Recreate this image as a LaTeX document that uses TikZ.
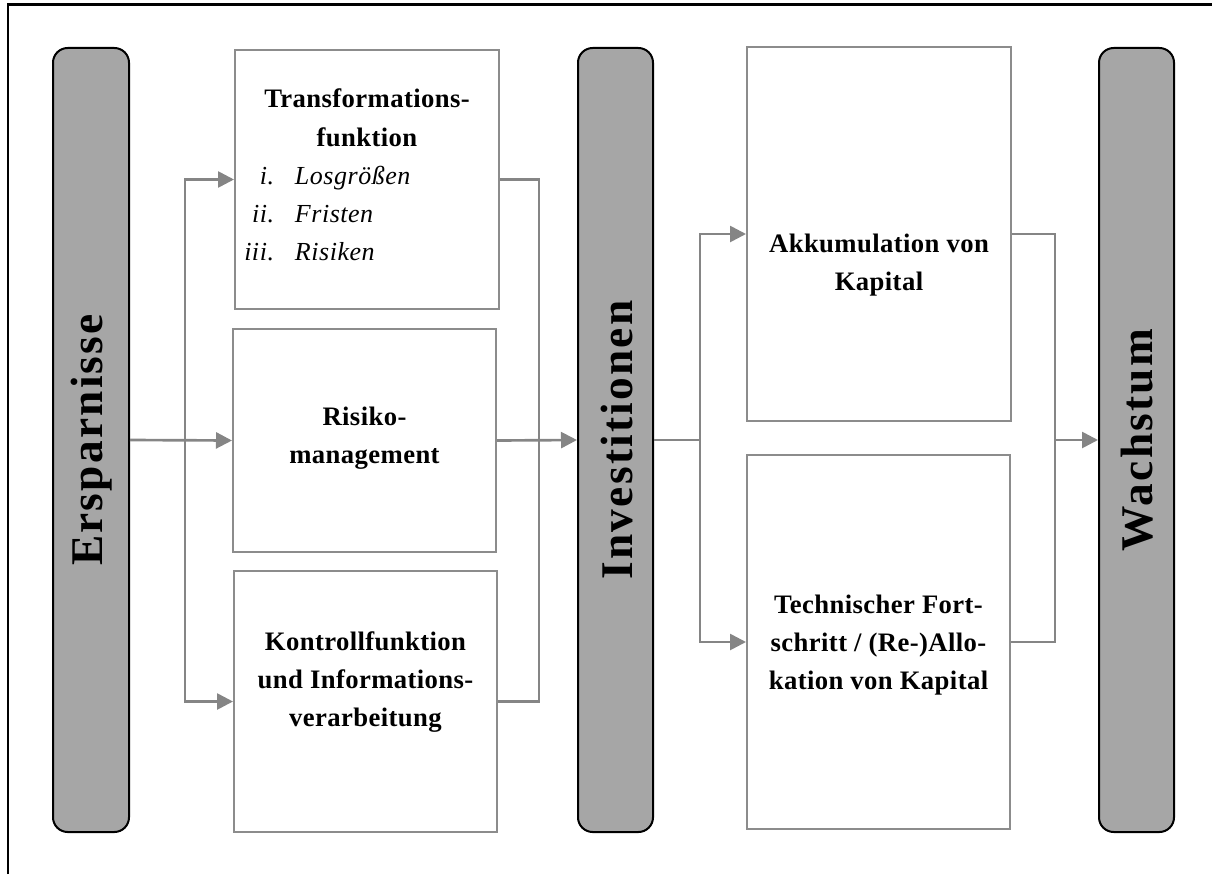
\documentclass[tikz,border=0pt]{standalone}
\usepackage{fontspec}
\setmainfont{Liberation Serif}
\usetikzlibrary{arrows.meta}
\definecolor{pillgray}{HTML}{A6A6A6}
\definecolor{boxgray}{HTML}{8C8C8C}
\definecolor{linegray}{HTML}{858585}
\newcommand\myboxfont{\fontsize{20}{28.5}\selectfont\bfseries\addfontfeatures{LetterSpace=1.5}}
\newcommand\mylistfont{\fontsize{19.5}{28.5}\selectfont\itshape\addfontfeatures{LetterSpace=2}}
\newcommand\mypillfont{\fontsize{34}{40}\selectfont\bfseries\addfontfeatures{LetterSpace=5}}
\def\u{0.75pt}
\begin{document}
\begin{tikzpicture}[x=0.75pt,y=-0.75pt,
  pill/.style={draw=black,fill=pillgray,line width=1.5pt,rounded corners=11pt,inner sep=0pt},
  boxnode/.style={draw=boxgray,fill=white,line width=1.5pt,inner sep=0pt},
  txt/.style={inner sep=0pt,font=\myboxfont},
  listtxt/.style={inner sep=0pt,font=\mylistfont},
  vlabel/.style={inner sep=0pt,rotate=90,font=\mypillfont},
  conn/.style={draw=linegray,line width=2pt,-{Triangle[length=12pt,width=12pt]}},
  plain/.style={draw=linegray,line width=2pt}]
\useasboundingbox (0,0) rectangle (1212,874);
% frame
\draw[line width=1.6pt] (8,874) -- (8,4.5) -- (1212,4.5);
% pills
\node[pill,minimum width=76*\u,minimum height=784*\u] (E) at (91,440) {};
\node[pill,minimum width=75*\u,minimum height=784*\u] (I) at (615.5,440) {};
\node[pill,minimum width=75*\u,minimum height=784*\u] (W) at (1136.5,440) {};
\node[vlabel] (tE) at (92,440) {Ersparnisse};
\node[vlabel] (tI) at (616.5,440) {Investitionen};
\node[vlabel] (tW) at (1137.5,440) {Wachstum};
% boxes
\node[boxnode,minimum width=264*\u,minimum height=259*\u] (T) at (367,179.5) {};
\node[boxnode,minimum width=263*\u,minimum height=223*\u] (R) at (364.5,440.5) {};
\node[boxnode,minimum width=263*\u,minimum height=261*\u] (K) at (365.5,701.5) {};
\node[boxnode,minimum width=264*\u,minimum height=374*\u] (A) at (879,234) {};
\node[boxnode,minimum width=263*\u,minimum height=374*\u] (Tc) at (878.5,642) {};
% texts
\node[txt] (tT) at (367,119.4) {\begin{tabular}{@{}c@{}}Transformations-\\funktion\end{tabular}};
\node[listtxt,anchor=west] (tL) at (244,214.4) {\begin{tabular}{@{}r@{\hspace{15.75pt}}l@{}}i. & Losgrößen\\ ii. & Fristen\\ iii. & Risiken\end{tabular}};
\node[txt] (tR) at (364.5,436.4) {\begin{tabular}{@{}c@{}}Risiko-\\management\end{tabular}};
\node[txt] (tK) at (365.5,680.4) {\begin{tabular}{@{}c@{}}Kontrollfunktion\\und Informations-\\verarbeitung\end{tabular}};
\node[txt] (tA) at (879,263.4) {\begin{tabular}{@{}c@{}}Akkumulation von\\Kapital\end{tabular}};
\node[txt] (tTc) at (878.5,643.4) {\begin{tabular}{@{}c@{}}Technischer Fort-\\schritt / (Re-)Allo-\\kation von Kapital\end{tabular}};
% connectors
\coordinate (b1) at (185,440);
\coordinate (b2) at (539,440);
\coordinate (b3) at (700,440);
\coordinate (b4) at (1055,440);
\draw[conn] (E.east) -- (R.west);
\draw[conn] (b1) |- (T.west);
\draw[conn] (b1) |- (K.west);
\draw[plain] (T.east) -| (b2);
\draw[plain] (K.east) -| (b2);
\draw[conn] (R.east) -- (I.west);
\draw[plain] (I.east) -- (b3);
\draw[conn] (b3) |- (A.west);
\draw[conn] (b3) |- (Tc.west);
\draw[plain] (A.east) -| (b4);
\draw[plain] (Tc.east) -| (b4);
\draw[conn] (b4) -- (W.west);
\end{tikzpicture}
\end{document}
